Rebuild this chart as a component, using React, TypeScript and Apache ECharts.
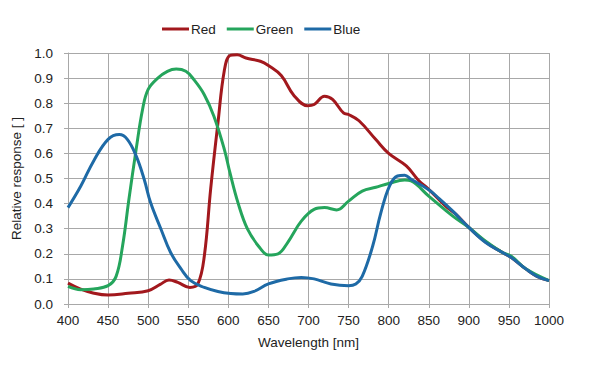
import React, { useEffect, useRef } from "react";
import * as echarts from "echarts";

const redX = [400, 415, 430, 450, 475, 500, 515, 526, 537, 552, 562, 570, 578, 587, 595, 602, 611, 622, 640, 650, 666, 682, 699, 707, 720, 730, 744, 750, 763, 784, 800, 822, 838, 850, 871, 884, 900, 921, 942, 953, 971, 985, 1000];
const redY = [0.083, 0.06, 0.045, 0.036, 0.043, 0.053, 0.078, 0.096, 0.086, 0.066, 0.08, 0.19, 0.46, 0.72, 0.93, 0.99, 0.993, 0.98, 0.967, 0.95, 0.91, 0.83, 0.79, 0.795, 0.828, 0.815, 0.76, 0.755, 0.73, 0.655, 0.6, 0.55, 0.49, 0.457, 0.39, 0.357, 0.305, 0.247, 0.205, 0.185, 0.14, 0.11, 0.093];

const greenX = [400, 416, 432, 450, 460, 468, 476, 485, 493, 500, 512, 524, 535, 547, 557, 570, 582, 595, 602, 612, 624, 639, 650, 662, 674, 691, 707, 720, 735, 750, 767, 784, 800, 820, 828, 850, 880, 900, 921, 942, 953, 971, 1000];
const greenY = [0.07, 0.057, 0.06, 0.073, 0.11, 0.23, 0.417, 0.616, 0.775, 0.855, 0.9, 0.927, 0.936, 0.927, 0.894, 0.834, 0.748, 0.616, 0.523, 0.404, 0.298, 0.225, 0.195, 0.2, 0.245, 0.33, 0.377, 0.384, 0.375, 0.41, 0.45, 0.465, 0.48, 0.494, 0.49, 0.43, 0.35, 0.305, 0.25, 0.205, 0.19, 0.14, 0.093];

const blueX = [400, 416, 432, 450, 464, 474, 485, 495, 503, 516, 528, 541, 553, 570, 587, 603, 618, 632, 650, 674, 691, 707, 728, 750, 759, 767, 780, 790, 801, 811, 820, 828, 850, 863, 880, 900, 921, 942, 953, 971, 985, 1000];
const blueY = [0.384, 0.47, 0.57, 0.656, 0.675, 0.656, 0.59, 0.497, 0.404, 0.298, 0.205, 0.14, 0.093, 0.066, 0.05, 0.042, 0.04, 0.05, 0.08, 0.1, 0.106, 0.1, 0.08, 0.073, 0.08, 0.11, 0.23, 0.36, 0.47, 0.51, 0.513, 0.497, 0.455, 0.42, 0.37, 0.305, 0.245, 0.205, 0.185, 0.14, 0.11, 0.093];

const seriesNames = ["Red", "Green", "Blue"];
const seriesColors = ["#a2181d", "#25a55c", "#1e6aa6"];

const zip = (xs: number[], ys: number[]) => xs.map((x, i) => [x, ys[i]]);

export default function App() {
  const ref = useRef<HTMLDivElement>(null);
  useEffect(() => {
    if (!ref.current) return;
    const chart = echarts.init(ref.current, undefined, { renderer: "svg" });
    const data = [zip(redX, redY), zip(greenX, greenY), zip(blueX, blueY)];
    const gridColor = "#a8a8a8";
    const font = "'Liberation Sans', Arial, sans-serif";
    chart.setOption({
      animation: false,
      backgroundColor: "#ffffff",
      textStyle: { fontFamily: font },
      legend: {
        data: seriesNames,
        left: 157,
        top: 17,
        icon: "rect",
        itemWidth: 27,
        itemHeight: 3,
        itemGap: 11,
        textStyle: { fontSize: 13.5, color: "#222", fontFamily: font, padding: [0, 0, 0, -3] },
      },
      grid: { left: 68, right: 50, top: 53, bottom: 68 },
      xAxis: {
        type: "value",
        min: 400,
        max: 1000,
        interval: 50,
        name: "Wavelength [nm]",
        nameLocation: "middle",
        nameGap: 31,
        nameTextStyle: { fontSize: 13.5, color: "#222", fontFamily: font },
        axisLine: { lineStyle: { color: gridColor, width: 1 } },
        axisTick: { show: true, length: 4, lineStyle: { color: gridColor } },
        axisLabel: {
          fontSize: 13.5,
          color: "#222",
          margin: 9,
          fontFamily: font,
          formatter: (v: number) => String(v),
        },
        splitLine: { show: true, lineStyle: { color: gridColor, width: 1 } },
      },
      yAxis: {
        type: "value",
        min: 0,
        max: 1,
        interval: 0.1,
        name: "Relative response [ ]",
        nameLocation: "middle",
        nameGap: 40,
        nameTextStyle: { fontSize: 13.5, color: "#222", fontFamily: font },
        axisLine: { show: true, lineStyle: { color: gridColor, width: 1 } },
        axisTick: { show: true, length: 4, lineStyle: { color: gridColor } },
        axisLabel: {
          fontSize: 13.5,
          color: "#222",
          margin: 15,
          fontFamily: font,
          formatter: (v: number) => v.toFixed(1),
        },
        splitLine: { show: true, lineStyle: { color: gridColor, width: 1 } },
      },
      series: seriesNames.map((name, i) => ({
        name,
        type: "line",
        data: data[i],
        smooth: 0.4,
        showSymbol: false,
        symbol: "none",
        itemStyle: { color: seriesColors[i] },
        lineStyle: { color: seriesColors[i], width: 3 },
      })),
    });
    return () => chart.dispose();
  }, []);
  return <div ref={ref} style={{ width: 599, height: 372, position: "absolute", left: 0, top: 0 }} />;
}
